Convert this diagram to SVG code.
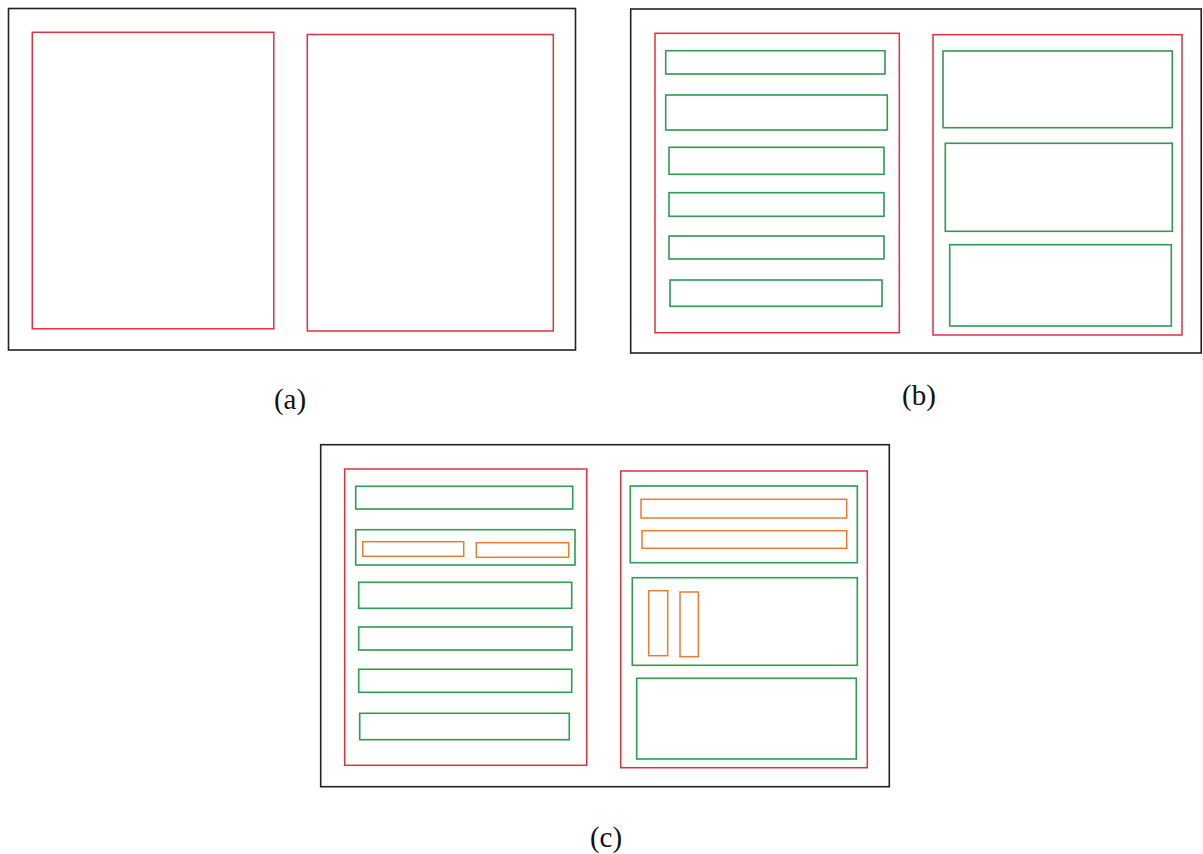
<svg xmlns="http://www.w3.org/2000/svg" width="1203" height="854" viewBox="0 0 1203 854">
<style>
rect{fill:none}
.k{stroke:#222;stroke-width:1.6}
.r{stroke:#e0303f;stroke-width:1.5}
.g{stroke:#2e9a52;stroke-width:1.6}
.o{stroke:#f07a30;stroke-width:1.5}
text{font-family:"Liberation Serif","Times New Roman",serif;font-size:29px;fill:#111;text-anchor:middle}
</style>
<rect width="1203" height="854" fill="#fff" style="fill:#fff"/>
<g id="panel-a">
<rect class="k" x="8.5" y="8.5" width="567" height="341.5"/>
<rect class="r" x="32.3" y="32.3" width="241.5" height="296.5"/>
<rect class="r" x="307.3" y="34.5" width="246" height="296.5"/>
<text x="290" y="409">(a)</text>
</g>
<g id="panel-b">
<rect class="k" x="630.7" y="9" width="570.5" height="344"/>
<rect class="r" x="655" y="33.3" width="244.3" height="299.4"/>
<rect class="g" x="665.7" y="50.7" width="219.3" height="23.3"/>
<rect class="g" x="665.7" y="95" width="221.6" height="35"/>
<rect class="g" x="669" y="147.3" width="215" height="27"/>
<rect class="g" x="669" y="192.7" width="215" height="23.6"/>
<rect class="g" x="669" y="236" width="215" height="23"/>
<rect class="g" x="670" y="280" width="212" height="26.3"/>
<rect class="r" x="933" y="34.7" width="249" height="300.3"/>
<rect class="g" x="943" y="51" width="229.3" height="76.7"/>
<rect class="g" x="945.3" y="143.3" width="227" height="88"/>
<rect class="g" x="949.7" y="244.7" width="221.6" height="81.3"/>
<text x="919" y="405">(b)</text>
</g>
<g id="panel-c">
<rect class="k" x="320.7" y="444.7" width="568.6" height="342"/>
<rect class="r" x="344.7" y="469" width="242" height="296.3"/>
<rect class="g" x="355.7" y="486.3" width="217" height="22.7"/>
<rect class="g" x="355.7" y="529.7" width="219.3" height="35.3"/>
<rect class="o" x="362.7" y="541.7" width="101" height="14.6"/>
<rect class="o" x="476.3" y="542.7" width="92.4" height="14.6"/>
<rect class="g" x="358.7" y="582.3" width="213" height="26"/>
<rect class="g" x="358.7" y="627" width="213.3" height="23"/>
<rect class="g" x="358.7" y="669.3" width="213" height="23"/>
<rect class="g" x="359.7" y="713.3" width="209.6" height="26.4"/>
<rect class="r" x="620.7" y="471" width="246.6" height="296.7"/>
<rect class="g" x="630.3" y="486" width="227" height="76.7"/>
<rect class="o" x="641" y="499.3" width="205.7" height="18.7"/>
<rect class="o" x="642" y="530.7" width="204.7" height="17.6"/>
<rect class="g" x="632.3" y="577.7" width="225" height="87.6"/>
<rect class="o" x="648.7" y="590.7" width="19" height="65"/>
<rect class="o" x="680" y="592" width="18.3" height="64.7"/>
<rect class="g" x="636.7" y="678.3" width="219.6" height="80.7"/>
<text x="606" y="847">(c)</text>
</g>
<g id="connectors"/>
</svg>
